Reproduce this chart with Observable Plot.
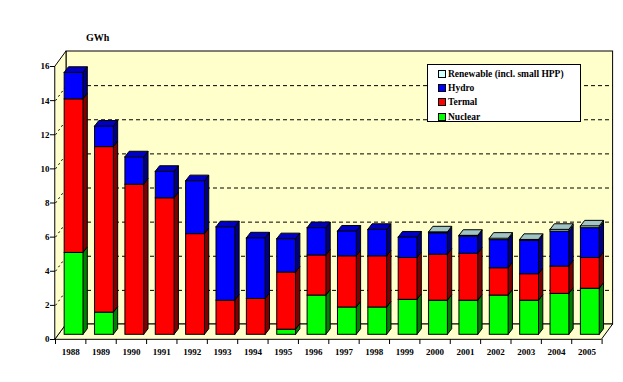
<!DOCTYPE html>
<html>
<head>
<meta charset="utf-8">
<script src="https://cdn.jsdelivr.net/npm/d3@7"></script>
<script src="https://cdn.jsdelivr.net/npm/@observablehq/plot@0.6"></script>
<style>
  html, body { margin: 0; padding: 0; background: #fff; }
  #wrap { position: relative; width: 623px; height: 382px; font-family: "Liberation Serif", serif; }
  #unit { position: absolute; left: 86px; top: 32px; font-size: 10px; font-weight: bold; }
  #legend { position: absolute; left: 427px; top: 64px; width: 154px; height: 58px; border: 1px solid #000; background: #fff; box-sizing: border-box; }
  .row { position: absolute; left: 10px; height: 12px; line-height: 12px; font-size: 9.5px; font-weight: bold; white-space: nowrap; }
  .sw { display: inline-block; width: 6px; height: 6px; border: 1px solid #000; margin-right: 2px; vertical-align: -1px; }
</style>
</head>
<body>
<div id="wrap">
  <div id="chart"></div>
  <div id="unit">GWh</div>
  <div id="legend"></div>
</div>
<script>
// ---- data (GWh) ----
const years = ["1988", "1989", "1990", "1991", "1992", "1993", "1994", "1995", "1996", "1997", "1998", "1999", "2000", "2001", "2002", "2003", "2004", "2005"];
const nuclear   = [4.8, 1.3, 0, 0, 0, 0, 0, 0.3, 2.3, 1.6, 1.6, 2.05, 2.0, 2.0, 2.3, 2.0, 2.4, 2.7];
const termal    = [9.0, 9.7, 8.8, 8.0, 5.9, 2.0, 2.1, 3.35, 2.35, 3.0, 3.0, 2.45, 2.7, 2.75, 1.6, 1.55, 1.6, 1.8];
const hydro     = [1.55, 1.2, 1.6, 1.55, 3.1, 4.3, 3.55, 1.95, 1.6, 1.45, 1.55, 1.2, 1.25, 1.0, 1.65, 1.95, 2.05, 1.75];
const renewable = [0, 0, 0, 0, 0, 0, 0, 0, 0, 0, 0, 0, 0.05, 0.05, 0.08, 0.06, 0.1, 0.1];
const seriesNames = ["Nuclear", "Termal", "Hydro", "Renewable (incl. small HPP)"];
const yTicks = [0, 2, 4, 6, 8, 10, 12, 14, 16];

// ---- styles ----
const front = ["#00FF00", "#FF0000", "#0000FF", "#CCFFFF"];
const side  = ["#008000", "#800000", "#000080", "#99BBBB"];
const top_  = ["#00C000", "#C00000", "#0000C0", "#A0C4C4"];
const wallFill = "#FFFFCC";

// ---- geometry ----
const W = 623, H = 382, mL = 55, mR = 21.4, mT = 66, mB = 43;
const pxX = (W - mL - mR) / 18, pxY = (H - mT - mB) / 16;
const BW = 0.62;                 // bar width in category units
const bdx = 3.4, bdy = -4.7;     // bar front plane offset (px)
const ddx = 4.3 / pxX, ddy = 5.6 / pxY;   // bar depth (units)
const wdx = 11, wdy = -15;       // wall depth (px)
const wx = wdx / pxX, wy = -wdy / pxY;

const values = [nuclear, termal, hydro, renewable];
const segs = [], sides = [], tops = [];
years.forEach((yr, i) => {
  let lo = 0, topS = 0;
  values.forEach((arr, s) => {
    const v = arr[i];
    if (v <= 0) return;
    const hi = lo + v;
    segs.push({i, lo, hi, fill: front[s]});
    const key = i + "-" + s;
    sides.push({key, x: i + BW / 2, y1: lo, y2: hi, fill: side[s]});
    sides.push({key, x: i + BW / 2 + ddx, y1: lo + ddy, y2: hi + ddy, fill: side[s]});
    lo = hi; topS = s;
  });
  tops.push({key: i, y: lo, x1: i - BW / 2, x2: i + BW / 2, fill: top_[topS]});
  tops.push({key: i, y: lo + ddy, x1: i - BW / 2 + ddx, x2: i + BW / 2 + ddx, fill: top_[topS]});
});

const floor = [{y: 0, x1: -0.5, x2: 17.5}, {y: wy, x1: -0.5 + wx, x2: 17.5 + wx}];
const leftWall = [{x: -0.5, y1: 0, y2: 16}, {x: -0.5 + wx, y1: wy, y2: 16 + wy}];
const gridVals = yTicks.filter(v => v > 0 && v < 16);

const chart = Plot.plot({
  width: W, height: H,
  marginLeft: mL, marginRight: mR, marginTop: mT, marginBottom: mB,
  x: {domain: [-0.5, 17.5]},
  y: {domain: [0, 16]},
  color: {type: "identity"},
  style: {background: "transparent", overflow: "visible", fontFamily: "Liberation Serif", fontSize: "9px", fontWeight: "bold", color: "#000"},
  marks: [
    // back wall
    Plot.rect([0], {x1: () => -0.5, x2: () => 17.5, y1: () => 0, y2: () => 16, dx: wdx, dy: wdy, fill: wallFill, stroke: "#000"}),
    Plot.ruleY(gridVals, {x1: () => -0.5, x2: () => 17.5, dx: wdx, dy: wdy, stroke: "#000", strokeDasharray: "4,3"}),
    // floor and left wall
    Plot.areaX(floor, {y: "y", x1: "x1", x2: "x2", fill: wallFill, stroke: "#000"}),
    Plot.areaY(leftWall, {x: "x", y1: "y1", y2: "y2", fill: wallFill, stroke: "#000"}),
    Plot.link(gridVals, {x1: () => -0.5, y1: d => d, x2: () => -0.5 + wx, y2: d => d + wy, stroke: "#000", strokeDasharray: "2,3"}),
    // bars
    Plot.areaY(sides, {x: "x", y1: "y1", y2: "y2", z: "key", fill: "fill", stroke: "#000", dx: bdx, dy: bdy}),
    Plot.areaX(tops, {y: "y", x1: "x1", x2: "x2", z: "key", fill: "fill", stroke: "#000", dx: bdx, dy: bdy}),
    Plot.rect(segs, {x1: d => d.i - BW / 2, x2: d => d.i + BW / 2, y1: "lo", y2: "hi", fill: "fill", stroke: "#000", dx: bdx, dy: bdy}),
    // axes
    Plot.axisY({ticks: yTicks, tickSize: 5, tickPadding: 1, label: null, tickFormat: d => String(d)}),
    Plot.axisX({ticks: d3.range(-0.5, 18, 1), tickSize: 5, tickFormat: () => "", label: null}),
    Plot.axisX({ticks: d3.range(0, 18), tickSize: 0, tickPadding: 9, tickFormat: i => years[i], label: null})
  ]
});
document.getElementById("chart").append(chart);

// legend (top to bottom: reverse of stacking order)
const legend = document.getElementById("legend");
[3, 2, 1, 0].forEach((s, k) => {
  const row = document.createElement("div");
  row.className = "row";
  row.style.top = (3 + k * 14.2) + "px";
  const sw = document.createElement("span");
  sw.className = "sw";
  sw.style.background = front[s];
  row.append(sw, document.createTextNode(seriesNames[s]));
  legend.append(row);
});
</script>
</body>
</html>
